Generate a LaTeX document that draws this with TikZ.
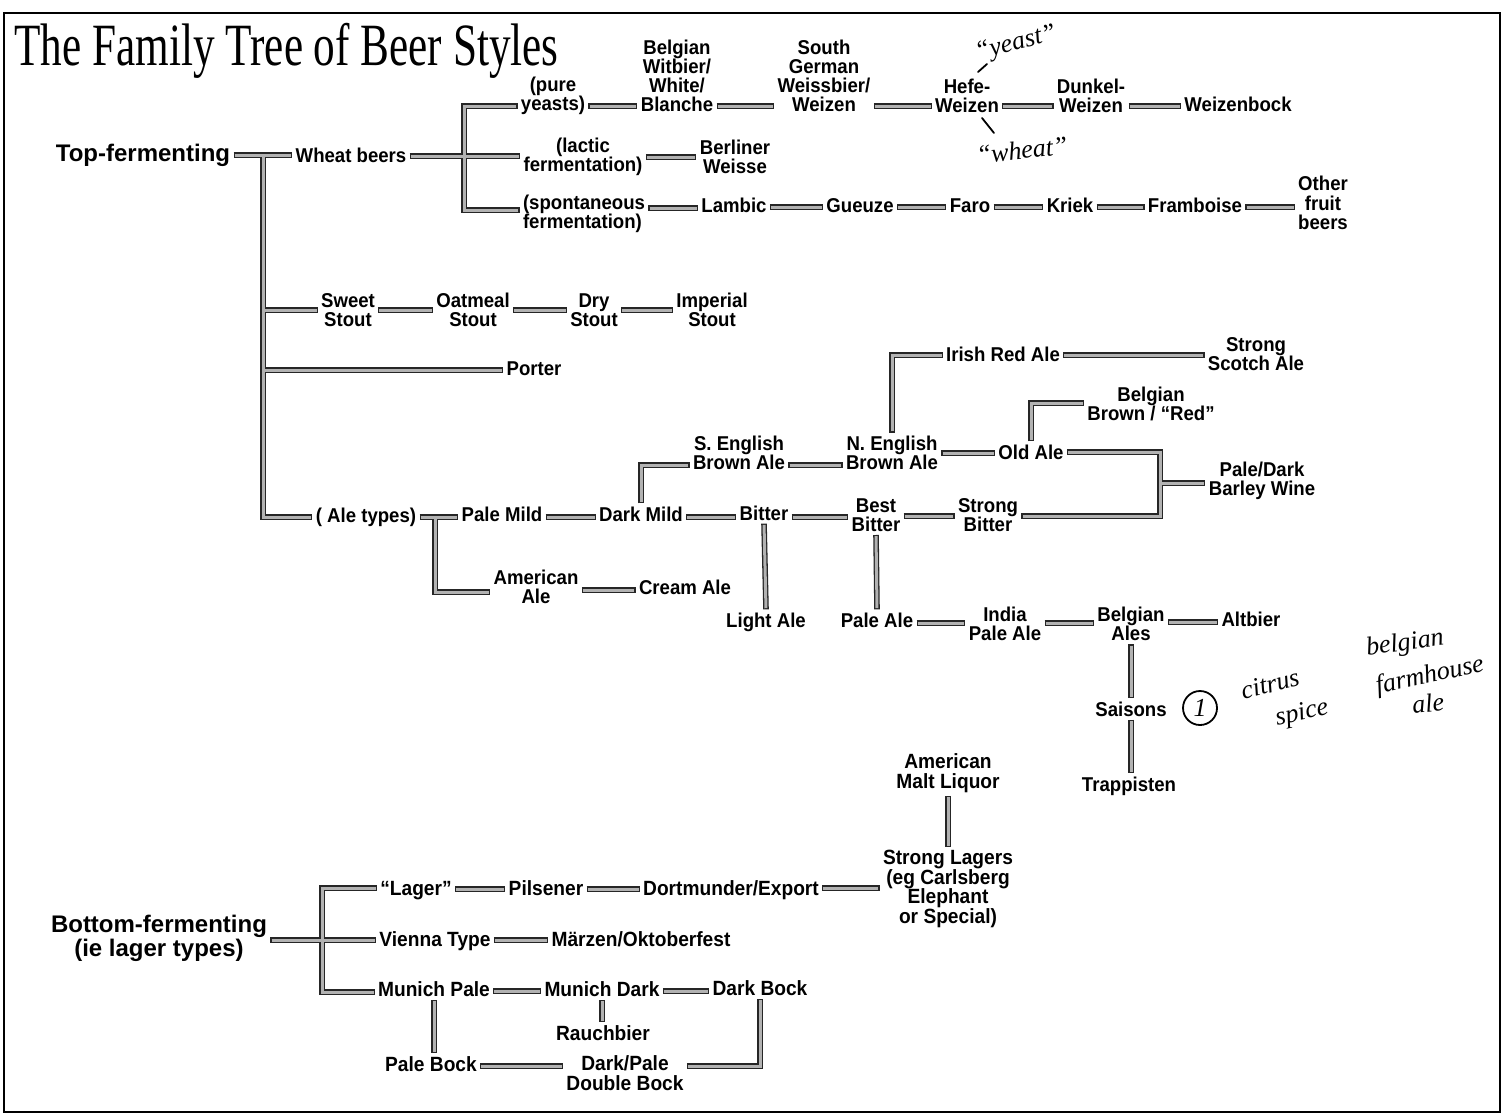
\documentclass[tikz,border=0pt]{standalone}
\usepackage{fontspec}
\usepackage{graphicx}
\setmainfont{Liberation Sans}
\newfontfamily\narrowfamily[FakeStretch=0.93]{Liberation Sans}
\newfontfamily\titlefamily{Liberation Serif}
\newfontfamily\handfamily{Liberation Serif}
\newcommand\labf{\fontsize{10pt}{9.6pt}\selectfont\narrowfamily\bfseries}
\newcommand\lagf{\fontsize{10.3pt}{9.8pt}\selectfont\narrowfamily\bfseries}
\newcommand\headf{\fontsize{12pt}{12pt}\selectfont\bfseries}
\newcommand\handf{\fontsize{13pt}{13pt}\selectfont\handfamily\itshape}
\tikzset{
  lab/.style={font=\labf, align=center, inner sep=1.5pt},
  lab1/.style={lab, text height=7.2pt, text depth=0pt},
  lag/.style={font=\lagf, align=center, inner sep=1.5pt},
  lag1/.style={lag, text height=7.4pt, text depth=0pt},
  head/.style={font=\headf, align=center, inner sep=1.5pt},
  head1/.style={head, text height=8.6pt, text depth=0pt},
  hand/.style={font=\handf, inner sep=0pt},
  handline/.style={line width=0.9pt, line cap=round},
  barout/.style={line width=2.8pt, draw=black!85},
  barin/.style={line width=1.5pt, draw=black!30, shorten <=0.6pt, shorten >=0.6pt},
}
\newcommand\allbars[1]{%
\begin{scope}[#1]
% top-fermenting
\draw (top.east |- 0,155) -- (wheat.west |- 0,155);
\draw (tj) |- (aletypes.west |- 0,517);
\draw (tj |- 0,310) -- (sweet.west |- 0,310);
\draw (tj |- 0,370) -- (porter.west |- 0,370);
% wheat
\draw (wheat.east |- 0,156) -- (lactic.west |- 0,156);
\draw (pure.west |- 0,106) -| (wj |- 0,210) -- (spont.west |- 0,210);
\draw (pure.east |- 0,106) -- (blanche.west |- 0,106);
\draw (blanche.east |- 0,106) -- (sgw.west |- 0,106);
\draw (sgw.east |- 0,106) -- (hefe.west |- 0,106);
\draw (hefe.east |- 0,106) -- (dunkel.west |- 0,106);
\draw (dunkel.east |- 0,106) -- (wbock.west |- 0,106);
\draw (lactic.east |- 0,157) -- (berliner.west |- 0,157);
\draw (spont.east |- 0,208) -- (lambic.west |- 0,208);
\draw (lambic.east |- 0,207) -- (gueuze.west |- 0,207);
\draw (gueuze.east |- 0,207) -- (faro.west |- 0,207);
\draw (faro.east |- 0,207) -- (kriek.west |- 0,207);
\draw (kriek.east |- 0,207) -- (framb.west |- 0,207);
\draw (framb.east |- 0,207) -- (fruit.west |- 0,207);
% stouts
\draw (sweet.east |- 0,310) -- (oat.west |- 0,310);
\draw (oat.east |- 0,310) -- (dry.west |- 0,310);
\draw (dry.east |- 0,310) -- (imp.west |- 0,310);
% ales
\draw (aletypes.east |- 0,517) -- (palemild.west |- 0,517);
\draw (aj) |- (amale.west |- 0,592);
\draw (palemild.east |- 0,517) -- (darkmild.west |- 0,517);
\draw (darkmild.east |- 0,517) -- (bitter.west |- 0,517);
\draw (darkmild.north) |- (seng.west |- 0,465);
\draw (bitter.east |- 0,517) -- (best.west |- 0,517);
\draw (bitter.south) -- (light.north);
\draw (best.east |- 0,516) -- (strongb.west |- 0,516);
\draw (best.south) -- (paleale.north);
\draw (oldale.east |- 0,452) -| (bj |- 0,516) -- (strongb.east |- 0,516);
\draw (bj) -- (barley.west |- bj);
\draw (seng.east |- 0,465) -- (neng.west |- 0,465);
\draw (neng.east |- 0,453) -- (oldale.west |- 0,453);
\draw (neng.north) |- (irish.west |- 0,355);
\draw (irish.east |- 0,355) -- (scotch.west |- 0,355);
\draw (oldale.north) |- (bbrown.west |- 0,403);
\draw (amale.east |- 0,590) -- (cream.west |- 0,590);
\draw (paleale.east |- 0,623) -- (ipa.west |- 0,623);
\draw (ipa.east |- 0,623) -- (belg.west |- 0,623);
\draw (belg.east |- 0,622) -- (alt.west |- 0,622);
\draw (belg.south) -- (saisons.north);
\draw (saisons.south) -- (saisons.south |- trapp.north);
% lagers
\draw (aml.south) -- (strongl.north);
\draw (dort.east |- 0,888) -- (strongl.west |- 0,888);
\draw (bottom.east |- 0,940) -- (vienna.west |- 0,940);
\draw (lager.west |- 0,888) -| (bjn |- 0,992) -- (mpale.west |- 0,992);
\draw (lager.east |- 0,889) -- (pils.west |- 0,889);
\draw (pils.east |- 0,889) -- (dort.west |- 0,889);
\draw (vienna.east |- 0,940) -- (marzen.west |- 0,940);
\draw (mpale.east |- 0,991) -- (mdark.west |- 0,991);
\draw (mdark.east |- 0,991) -- (dbock.west |- 0,991);
\draw (mpale.south) -- (pbock.north -| mpale.south);
\draw (mdark.south) -- (rauch.north -| mdark.south);
\draw (pbock.east |- 0,1066) -- (dbl.west |- 0,1066);
\draw (dbl.east |- 0,1066) -| (dbock.south);
\end{scope}}
\begin{document}
\begin{tikzpicture}[x=0.5pt, y=-0.5pt]
\useasboundingbox (0,0) rectangle (1507,1116);
\draw[line width=0.8pt] (4,13) rectangle (1500,1112);
\node[anchor=base west, inner sep=0] (title) at (14,65)
  {\scalebox{0.72}[1]{\fontsize{30pt}{30pt}\selectfont\titlefamily The Family Tree of Beer Styles}};
% top-fermenting
\node[head1] (top) at (143,153) {Top-fermenting};
\node[lab1] (wheat) at (351,155) {Wheat beers};
\node[lab] (pure) at (553,96) {(pure\\yeasts)};
\node[lab] (blanche) at (677,76) {Belgian\\Witbier/\\White/\\Blanche};
\node[lab] (sgw) at (824,76) {South\\German\\Weissbier/\\Weizen};
\node[lab] (hefe) at (967,96) {Hefe-\\Weizen};
\node[lab] (dunkel) at (1091,96) {Dunkel-\\Weizen};
\node[lab1] (wbock) at (1238,104) {Weizenbock};
\node[lab] (lactic) at (583,157) {(lactic\\fermentation)};
\node[lab] (berliner) at (735,157) {Berliner\\Weisse};
\node[lab, align=left] (spont) at (584,214) {(spontaneous\\fermentation)};
\node[lab1] (lambic) at (734,205) {Lambic};
\node[lab1] (gueuze) at (860,205) {Gueuze};
\node[lab1] (faro) at (970,205) {Faro};
\node[lab1] (kriek) at (1070,205) {Kriek};
\node[lab1] (framb) at (1195,205) {Framboise};
\node[lab] (fruit) at (1323,203) {Other\\fruit\\beers};
\node[lab] (sweet) at (348,310) {Sweet\\Stout};
\node[lab] (oat) at (473,310) {Oatmeal\\Stout};
\node[lab] (dry) at (594,310) {Dry\\Stout};
\node[lab] (imp) at (712,310) {Imperial\\Stout};
\node[lab1] (porter) at (534,368) {Porter};
\node[lab1] (irish) at (1003,354) {Irish Red Ale};
\node[lab] (scotch) at (1256,354) {Strong\\Scotch Ale};
\node[lab] (bbrown) at (1151,404) {Belgian\\Brown / “Red”};
\node[lab] (seng) at (739,453) {S. English\\Brown Ale};
\node[lab] (neng) at (892,453) {N. English\\Brown Ale};
\node[lab1] (oldale) at (1031,452) {Old Ale};
\node[lab] (barley) at (1262,481) {Pale/Dark\\Barley Wine};
\node[lab1] (aletypes) at (366,515) {( Ale types)};
\node[lab1] (palemild) at (502,514) {Pale Mild};
\node[lab1] (darkmild) at (641,514) {Dark Mild};
\node[lab1] (bitter) at (764,513) {Bitter};
\node[lab] (best) at (876,515) {Best\\Bitter};
\node[lab] (strongb) at (988,515) {Strong\\Bitter};
\node[lab] (amale) at (536,587) {American\\Ale};
\node[lab1] (cream) at (685,587) {Cream Ale};
\node[lab1] (light) at (766,620) {Light Ale};
\node[lab1] (paleale) at (877,620) {Pale Ale};
\node[lab] (ipa) at (1005,624) {India\\Pale Ale};
\node[lab] (belg) at (1131,624) {Belgian\\Ales};
\node[lab1] (alt) at (1251,619) {Altbier};
\node[lab1] (saisons) at (1131,709) {Saisons};
\node[lab1] (trapp) at (1129,784) {Trappisten};
% bottom-fermenting
\node[lag] (aml) at (948,773) {American\\Malt Liquor};
\node[lag] (strongl) at (948,889) {Strong Lagers\\(eg Carlsberg\\Elephant\\or Special)};
\node[lag1] (lager) at (416,888) {“Lager”};
\node[lag1] (pils) at (546,888) {Pilsener};
\node[lag1] (dort) at (731,888) {Dortmunder/Export};
\node[head] (bottom) at (159,938) {Bottom-fermenting\\(ie lager types)};
\node[lag1] (vienna) at (435,939) {Vienna Type};
\node[lag1] (marzen) at (641,939) {Märzen/Oktoberfest};
\node[lag1] (mpale) at (434,989) {Munich Pale};
\node[lag1] (mdark) at (602,989) {Munich Dark};
\node[lag1] (dbock) at (760,988) {Dark Bock};
\node[lag1] (rauch) at (603,1033) {Rauchbier};
\node[lag1] (pbock) at (431,1064) {Pale Bock};
\node[lag] (dbl) at (625,1073) {Dark/Pale\\Double Bock};
% junctions
\coordinate (tj) at (263,155);
\coordinate (wj) at (464,156);
\coordinate (aj) at (435,517);
\coordinate (bj) at (1160,483);
\coordinate (bjn) at (322,940);
\allbars{barout}
\allbars{barin}
% handwritten notes
\node[hand, rotate=14] (yeast) at (1016,44) {“yeast”};
\coordinate (y1) at (978,72); \coordinate (y2) at (987,64);
\draw[handline] (y1) -- (y2);
\coordinate (w1) at (982,118); \coordinate (w2) at (994,133);
\draw[handline] (w1) -- (w2);
\node[hand, rotate=6] (wheatnote) at (1022,150) {“wheat”};
\node[hand, draw, circle, line width=0.9pt, minimum size=17pt] (one) at (1200,708) {1};
\node[hand, rotate=14] (citrus) at (1270,684) {citrus};
\node[hand, rotate=12] (spice) at (1302,714) {spice};
\node[hand, rotate=8] (belgnote) at (1405,644) {belgian};
\node[hand, rotate=12] (farm) at (1430,676) {farmhouse};
\node[hand, rotate=6] (alenote) at (1428,703) {ale};
\end{tikzpicture}
\end{document}
